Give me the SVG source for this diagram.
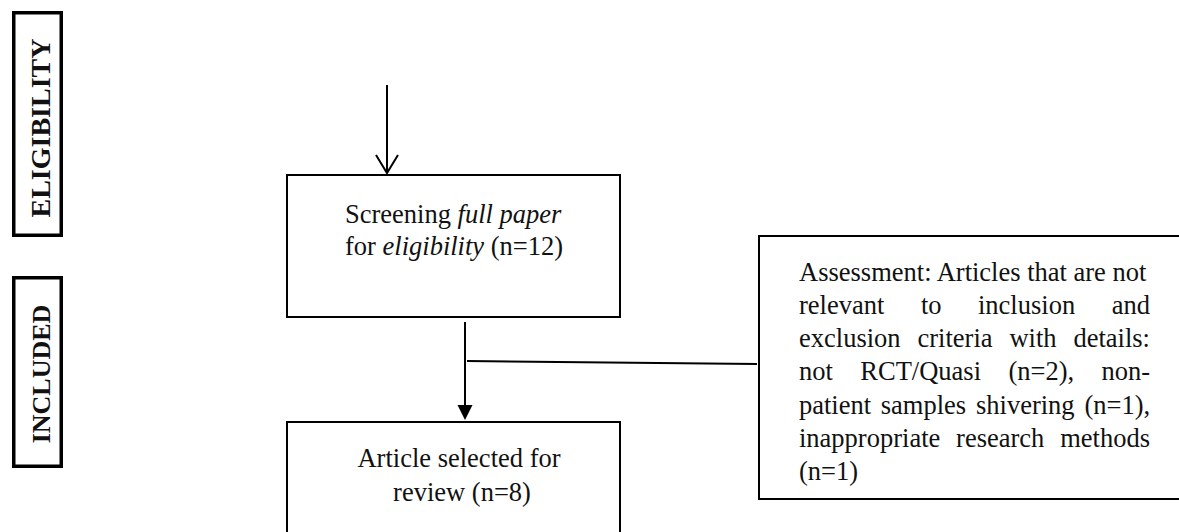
<svg xmlns="http://www.w3.org/2000/svg" width="1179" height="532" viewBox="0 0 1179 532">
<style>
.box{fill:#fff;stroke:#000;stroke-width:2}
.side{fill:#fff;stroke:#000;stroke-width:3.5}
.t{font-family:"Liberation Serif","Times New Roman",serif;font-size:26.5px;fill:#111}
.lab{font-family:"Liberation Serif","Times New Roman",serif;font-weight:bold;fill:#111;text-anchor:middle}
.ln{stroke:#000;stroke-width:2;fill:none}
</style>
<defs>
<marker id="tri" markerWidth="16" markerHeight="16" refX="7.5" refY="15" orient="auto-start-reverse" markerUnits="userSpaceOnUse" viewBox="0 0 16 16">
<path d="M0,0 L15,0 L7.5,15 Z" fill="#000" transform="rotate(0)"/>
</marker>
</defs>
<rect width="1179" height="532" fill="#fff"/>
<g id="eligibility">
<rect class="side" x="13.75" y="12.75" width="47.5" height="222.5"/>
<text class="lab" font-size="28" transform="translate(50,128) rotate(-90)">ELIGIBILITY</text>
</g>
<g id="included">
<rect class="side" x="13.75" y="277.75" width="47.5" height="188.5"/>
<text class="lab" font-size="26" transform="translate(50,374) rotate(-90)">INCLUDED</text>
</g>
<g id="screening">
<rect class="box" x="287" y="175" width="333" height="142"/>
<text class="t" x="345" y="223">Screening <tspan font-style="italic">full paper</tspan></text>
<text class="t" x="345" y="255">for <tspan font-style="italic">eligibility</tspan> (n=12)</text>
</g>
<g id="selected">
<rect class="box" x="287" y="422" width="333" height="130"/>
<text class="t" x="459" y="466.5" text-anchor="middle">Article selected for</text>
<text class="t" x="462" y="500.5" text-anchor="middle">review (n=8)</text>
</g>
<g id="assessment">
<rect class="box" x="759" y="236" width="440" height="263"/>
<text class="t" y="280.5"><tspan x="799">Assessment: Articles that are not</tspan></text>
<text class="t" y="313.8"><tspan x="799">relevant</tspan><tspan x="921">to</tspan><tspan x="978">inclusion</tspan><tspan x="1111.7">and</tspan></text>
<text class="t" y="347.1"><tspan x="799">exclusion</tspan><tspan x="917.5">criteria</tspan><tspan x="1009.4">with</tspan><tspan x="1073.4">details:</tspan></text>
<text class="t" y="380.4"><tspan x="799">not</tspan><tspan x="860.3">RCT/Quasi</tspan><tspan x="1008.4">(n=2),</tspan><tspan x="1101.5">non-</tspan></text>
<text class="t" y="413.7"><tspan x="799">patient</tspan><tspan x="880.8">samples</tspan><tspan x="976">shivering</tspan><tspan x="1084.4">(n=1),</tspan></text>
<text class="t" y="447"><tspan x="799">inappropriate</tspan><tspan x="956.1">research</tspan><tspan x="1060.2">methods</tspan></text>
<text class="t" y="480.3"><tspan x="799">(n=1)</tspan></text>
</g>
<g id="connectors">
<line class="ln" x1="387" y1="85" x2="387" y2="173"/>
<polyline class="ln" points="376,155 387,173 398,155"/>
<line class="ln" x1="465" y1="322" x2="465" y2="406"/>
<path d="M457.5,405 L472.5,405 L465,420 Z" fill="#000"/>
<line class="ln" x1="467" y1="361" x2="757" y2="364"/>
</g>
</svg>
